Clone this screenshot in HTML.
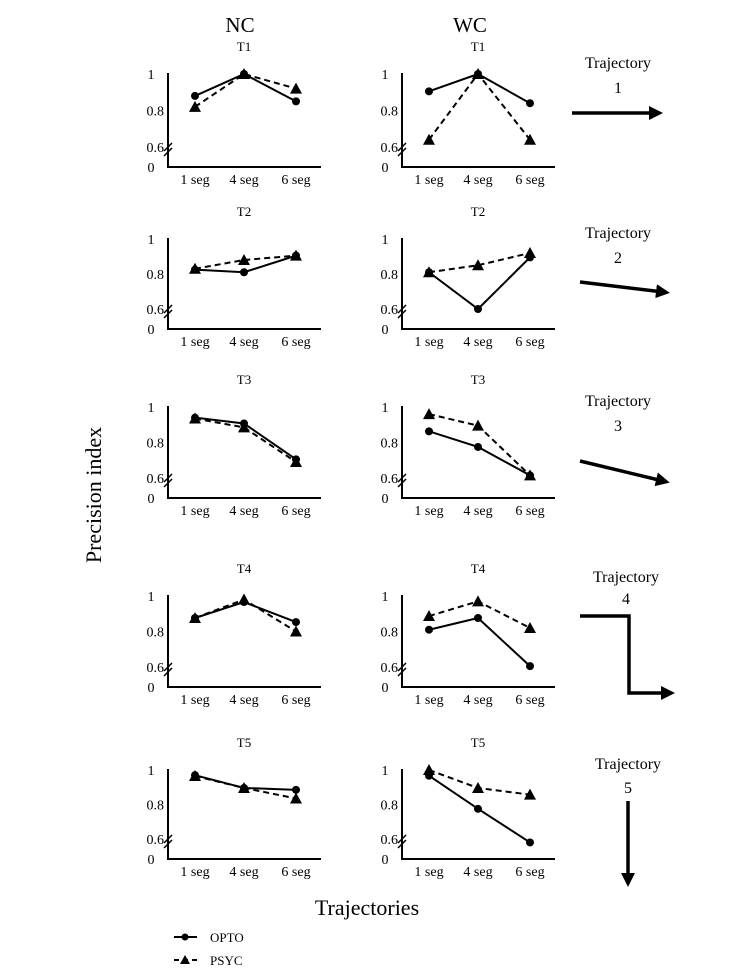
<!DOCTYPE html>
<html><head><meta charset="utf-8"><style>
body{margin:0;background:#fff;}
svg{display:block;font-family:"Liberation Serif",serif;}
</style></head><body>
<svg id="fig" width="754" height="976" viewBox="0 0 754 976">
<defs>
<marker id="ah" markerWidth="4" markerHeight="4" refX="2" refY="2" orient="auto" markerUnits="strokeWidth"><path d="M0,0 L4,2 L0,4 z" fill="#000"/></marker>
</defs>
<text x="240" y="32" font-size="21" text-anchor="middle">NC</text>
<text x="470" y="32" font-size="21" text-anchor="middle">WC</text>
<text transform="translate(101,495) rotate(-90)" font-size="22" text-anchor="middle">Precision index</text>
<text x="367" y="915" font-size="22" text-anchor="middle">Trajectories</text>
<g>
<line x1="174" y1="937" x2="197" y2="937" stroke="#000" stroke-width="2"/>
<circle cx="185" cy="937" r="3.5" fill="#000"/>
<text x="210" y="942" font-size="13">OPTO</text>
<line x1="174" y1="960" x2="199" y2="960" stroke="#000" stroke-width="2" stroke-dasharray="5,4"/>
<path d="M180,964 L185,955 L190,964 z" fill="#000"/>
<text x="210" y="965" font-size="13">PSYC</text>
</g>
<g id="arrows">
<text x="618" y="68" font-size="16" text-anchor="middle">Trajectory</text><text x="618" y="93" font-size="16" text-anchor="middle">1</text>
<line x1="572" y1="113" x2="656" y2="113" stroke="#000" stroke-width="3.5" marker-end="url(#ah)"/>
<text x="618" y="238" font-size="16" text-anchor="middle">Trajectory</text><text x="618" y="263" font-size="16" text-anchor="middle">2</text>
<line x1="580" y1="282" x2="663" y2="292" stroke="#000" stroke-width="3.5" marker-end="url(#ah)"/>
<text x="618" y="406" font-size="16" text-anchor="middle">Trajectory</text><text x="618" y="431" font-size="16" text-anchor="middle">3</text>
<line x1="580" y1="461" x2="663" y2="481" stroke="#000" stroke-width="3.5" marker-end="url(#ah)"/>
<text x="626" y="582" font-size="16" text-anchor="middle">Trajectory</text><text x="626" y="604" font-size="16" text-anchor="middle">4</text>
<polyline points="580,616 629,616 629,693 668,693" fill="none" stroke="#000" stroke-width="3.5" marker-end="url(#ah)"/>
<text x="628" y="769" font-size="16" text-anchor="middle">Trajectory</text><text x="628" y="793" font-size="16" text-anchor="middle">5</text>
<line x1="628" y1="801" x2="628" y2="880" stroke="#000" stroke-width="3.5" marker-end="url(#ah)"/>
</g>
<g id="panels"></g>
</svg>
<script>
const categories=["1 seg","4 seg","6 seg"];
const yTicks=["1","0.8","0.6","0"];
const titles=["T1","T2","T3","T4","T5"];
const ncOpto=[[0.88,1.0,0.85],[0.825,0.81,0.905],[0.94,0.907,0.705],[0.876,0.966,0.853],[0.97,0.896,0.885]];
const ncPsyc=[[0.82,1.0,0.92],[0.83,0.88,0.905],[0.935,0.885,0.69],[0.876,0.98,0.80],[0.965,0.896,0.835]];
const wcOpto=[[0.905,1.0,0.84],[0.81,0.6,0.895],[0.863,0.775,0.615],[0.81,0.876,0.605],[0.967,0.775,0.58]];
const wcPsyc=[[0.64,1.0,0.64],[0.81,0.85,0.92],[0.96,0.895,0.615],[0.887,0.97,0.82],[1.0,0.896,0.857]];

const NS="http://www.w3.org/2000/svg";
const root=document.getElementById('panels');
const rowTop=[73,238,406,595,769];
const rowBot=[167,329,498,687,859];
const colX=[168,402];
function mk(tag,attrs,parent){const e=document.createElementNS(NS,tag);for(const k in attrs)e.setAttribute(k,attrs[k]);parent.appendChild(e);return e;}
function drawPanel(r,c,opto,psyc){
  const ax=colX[c], top=rowTop[r], bot=rowBot[r];
  const y1=top+1, y06=bot-20;
  const yScale=v=>y1+(1-v)/0.4*(y06-y1);
  const xOff=[27,76,128];
  const xScale=i=>ax+xOff[i];
  const g=mk('g',{},root);
  
  
  const t=mk('text',{x:ax+76,y:top-22,'font-size':13,'text-anchor':'middle'},g);t.textContent=titles[r];
  
  
  mk('polyline',{points:`${ax},${top} ${ax},${bot} ${ax+153},${bot}`,fill:'none',stroke:'#000','stroke-width':2},g);
  // axis break
  mk('line',{x1:ax-4,y1:y06+4,x2:ax+4,y2:y06-4,stroke:'#000','stroke-width':1.5},g);
  mk('line',{x1:ax-4,y1:y06+9,x2:ax+4,y2:y06+1,stroke:'#000','stroke-width':1.5},g);
  const tickY=[y1,yScale(0.8),y06,bot];
  yTicks.forEach((lab,i)=>{const tt=mk('text',{x:lab==="0"||lab==="1"?ax-17:ax-4,y:tickY[i]+5,'font-size':14,'text-anchor':lab==="0"||lab==="1"?'middle':'end'},g);tt.textContent=lab;
    
    });
  categories.forEach((lab,i)=>{const tt=mk('text',{x:xScale(i),y:bot+17,'font-size':14,'text-anchor':'middle'},g);tt.textContent=lab;
    
    });
  const pp=psyc.map((v,i)=>xScale(i)+','+yScale(v)).join(' ');
  const pl=mk('polyline',{points:pp,fill:'none',stroke:'#000','stroke-width':2,'stroke-dasharray':'6,4'},g);
  
  
  psyc.forEach((v,i)=>{const x=xScale(i),y=yScale(v);const m=mk('path',{d:`M${x-6},${y+5} L${x},${y-6} L${x+6},${y+5} z`,fill:'#000'},g);
    
    });
  const op=opto.map((v,i)=>xScale(i)+','+yScale(v)).join(' ');
  const ol=mk('polyline',{points:op,fill:'none',stroke:'#000','stroke-width':2},g);
  
  
  opto.forEach((v,i)=>{const m=mk('circle',{cx:xScale(i),cy:yScale(v),r:4,fill:'#000'},g);
    
    });
}
for(let r=0;r<5;r++){drawPanel(r,0,ncOpto[r],ncPsyc[r]);drawPanel(r,1,wcOpto[r],wcPsyc[r]);}
</script>
</body></html>
